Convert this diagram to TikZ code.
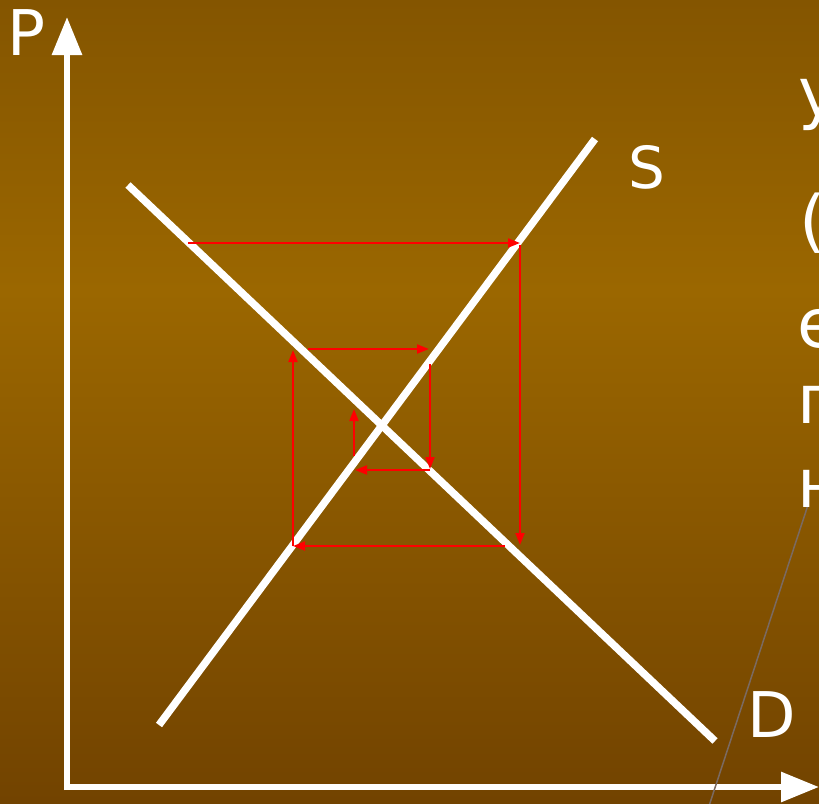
\documentclass[tikz,border=0pt]{standalone}
\usepackage{fontspec}
\setmainfont{DejaVu Sans}
\usetikzlibrary{arrows.meta}
\definecolor{bgtop}{HTML}{845500}
\definecolor{bgmid}{HTML}{9B6700}
\definecolor{bgbot}{HTML}{724300}
\definecolor{redarrow}{HTML}{FF0000}
\definecolor{greyline}{HTML}{7A6A62}
\tikzset{
  curve/.style={white, line width=7.5pt},
  axis/.style={white, line width=6pt, -{Triangle[length=38pt,width=29pt]}},
  cob/.style={redarrow, line width=2pt, -{Triangle[length=12pt,width=9pt]}},
  lbl/.style={white, inner sep=0pt, anchor=base west, font=\fontsize{63}{63}\selectfont},
  cyr/.style={white, inner sep=0pt, anchor=base west, font=\fontsize{68}{68}\selectfont},
}
\begin{document}
\begin{tikzpicture}[x=1pt, y=-1pt]
\useasboundingbox (0,0) rectangle (819,803);
\begin{scope}
\clip (0,0) rectangle (819,803);
\shade[top color=bgtop, bottom color=bgmid] (0,0) rectangle (819,291);
\shade[top color=bgmid, bottom color=bgbot] (0,290) rectangle (819,803);

% axes
\coordinate (O) at (67,787);
\coordinate (Ptip) at (67,17);
\coordinate (Qtip) at (819,787);
\draw[axis] (67,790) -- (Ptip);
\draw[axis] (64,787) -- (Qtip);

% supply and demand
\coordinate (D1) at (128,185);
\coordinate (D2) at (715,741);
\coordinate (S1) at (159,725);
\coordinate (S2) at (595,139);
\draw[curve] (D1) -- (D2);
\draw[curve] (S1) -- (S2);

% cobweb
\coordinate (a1) at (188,243);  \coordinate (a2) at (520,243);
\coordinate (b1) at (520,245);  \coordinate (b2) at (520,545);
\coordinate (c1) at (505,546);  \coordinate (c2) at (293,546);
\coordinate (d1) at (293,546);  \coordinate (d2) at (293,350);
\coordinate (e1) at (308,349);  \coordinate (e2) at (429,349);
\coordinate (f1) at (430,364);  \coordinate (f2) at (430,469);
\coordinate (g1) at (430,470);  \coordinate (g2) at (355,470);
\coordinate (h1) at (354,456);  \coordinate (h2) at (354,409);
\draw[cob] (a1) -- (a2);
\draw[cob] (b1) -- (b2);
\draw[cob] (c1) -- (c2);
\draw[cob] (d1) -- (d2);
\draw[cob] (e1) -- (e2);
\draw[cob] (f1) -- (f2);
\draw[cob] (g1) -- (g2);
\draw[cob] (h1) -- (h2);

% grey line
\coordinate (g3) at (808,505);
\coordinate (g4) at (709,806);
\draw[greyline, line width=1.5pt] (g3) -- (g4);

% labels
\node[lbl] (Plbl) at (7,55) {P};
\node[lbl, font=\fontsize{58}{58}\selectfont] (Slbl) at (628,188) {S};
\node[lbl] (Dlbl) at (747,737) {D};

\node[cyr] (t1) at (798,116) {у};
\node[cyr] (t2) at (799,244) {(};
\node[cyr] (t3) at (797,347) {е};
\node[cyr] (t4) at (797,423) {п};
\node[cyr] (t5) at (797,507) {н};
\end{scope}
\end{tikzpicture}
\end{document}
